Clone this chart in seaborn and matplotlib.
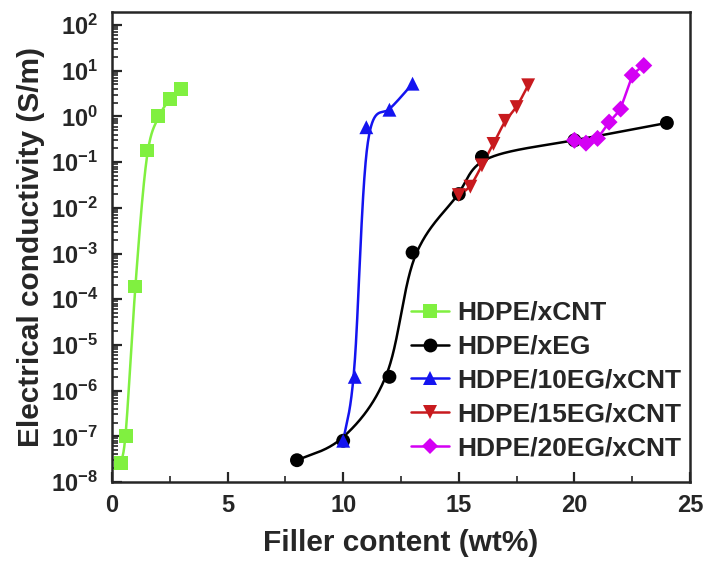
import numpy as np
import pandas as pd
import matplotlib
matplotlib.use("Agg")
import matplotlib.pyplot as plt
import seaborn as sns
from matplotlib.lines import Line2D
from matplotlib.ticker import LogLocator, MultipleLocator, FuncFormatter, NullFormatter

# series
labels = ["HDPE/xCNT", "HDPE/xEG", "HDPE/10EG/xCNT", "HDPE/15EG/xCNT", "HDPE/20EG/xCNT"]
colors = ["#80f040", "#000000", "#1414f0", "#c81a1e", "#d400f4"]
markers = ["s", "o", "^", "v", "D"]

cnt_x = [0.4, 0.6, 1.0, 1.5, 2.0, 2.5, 3.0]
cnt_y = [2.6e-8, 1.0e-7, 1.9e-4, 0.18, 1.0, 2.4, 4.0]

eg_x = [8, 10, 12, 13, 15, 16, 20, 24]
eg_y = [3.0e-8, 8.0e-8, 2.0e-6, 1.05e-3, 0.02, 0.13, 0.30, 0.72]

eg10_x = [10, 10.5, 11, 12, 13]
eg10_y = [8.0e-8, 2.0e-6, 0.58, 1.4, 5.2]

eg15_x = [15, 15.5, 16, 16.5, 17, 17.5, 18]
eg15_y = [0.019, 0.029, 0.085, 0.25, 0.8, 1.6, 4.8]

eg20_x = [20, 20.5, 21, 21.5, 22, 22.5, 23]
eg20_y = [0.30, 0.26, 0.33, 0.75, 1.45, 8.0, 13.0]

xs = [cnt_x, eg_x, eg10_x, eg15_x, eg20_x]
ys = [cnt_y, eg_y, eg10_y, eg15_y, eg20_y]


def smooth_line(x, y, w=0.5, n=60, sx=23.1, sy=45.7):
    # uniform cubic spline half way between Catmull-Rom and B-spline,
    # worked out in screen-like units (log y), ends pass through first/last point
    P = np.column_stack([np.asarray(x, float) * sx, np.log10(np.asarray(y, float)) * sy])
    P = np.vstack([2 * P[0] - P[1], P, 2 * P[-1] - P[-2]])
    cr = 0.5 * np.array([[0, 2, 0, 0], [-1, 0, 1, 0], [2, -5, 4, -1], [-1, 3, -3, 1]])
    bs = np.array([[1, 4, 1, 0], [-3, 0, 3, 0], [3, -6, 3, 0], [-1, 3, -3, 1]]) / 6.0
    M = (1 - w) * cr + w * bs
    u = np.linspace(0, 1, n)
    U = np.column_stack([np.ones(n), u, u**2, u**3])
    out = []
    for i in range(len(P) - 3):
        c = U @ M @ P[i:i + 4]
        out.append(c if i == 0 else c[1:])
    C = np.vstack(out)
    return C[:, 0] / sx, 10 ** (C[:, 1] / sy)


sns.set_style("ticks")
plt.rcParams["font.family"] = ["Liberation Sans", "DejaVu Sans"]
plt.rcParams["font.weight"] = "bold"
plt.rcParams["mathtext.fontset"] = "custom"
plt.rcParams["mathtext.bf"] = "Liberation Sans:bold"
plt.rcParams["mathtext.rm"] = "Liberation Sans:bold"

fig = plt.figure(figsize=(7.1, 5.65), dpi=100)
ax = fig.add_axes([112 / 710, 83 / 565, 578 / 710, 470 / 565])
ax.set_yscale("log")

for lab, col, mk, x, y in zip(labels, colors, markers, xs, ys):
    sx, sy = smooth_line(x, y)
    curve = pd.DataFrame({"x": sx, "y": sy})
    pts = pd.DataFrame({"x": x, "y": y})
    sns.lineplot(data=curve, x="x", y="y", color=col, linewidth=1.8,
                 estimator=None, sort=False, ax=ax)
    size = 75 if mk == "D" else 100
    sns.scatterplot(data=pts, x="x", y="y", color=col, marker=mk, s=size,
                    edgecolor="none", ax=ax, zorder=3)

ax.set_xlim(0, 25)
ax.set_ylim(1e-8, 10 ** 2.285)

ax.xaxis.set_major_locator(MultipleLocator(5))
ax.xaxis.set_minor_locator(MultipleLocator(2.5))
ax.yaxis.set_major_locator(LogLocator(base=10, numticks=20))
ax.yaxis.set_minor_locator(LogLocator(base=10, subs=np.arange(2, 10), numticks=20))
ax.yaxis.set_minor_formatter(NullFormatter())
ax.yaxis.set_major_formatter(FuncFormatter(lambda v, p: r"$\mathbf{10^{%d}}$" % round(np.log10(v))))

ax.tick_params(axis="both", which="major", direction="in", length=7, width=1.6,
               labelsize=17, top=False, right=False)
ax.tick_params(axis="x", which="major", pad=9)
ax.tick_params(axis="y", which="major", pad=10)
ax.tick_params(axis="both", which="minor", direction="in", length=4, width=1.2,
               top=False, right=False)
for lbl in ax.get_xticklabels():
    lbl.set_fontweight("bold")

for sp in ax.spines.values():
    sp.set_linewidth(1.8)
    sp.set_visible(True)

ax.set_xlabel("Filler content (wt%)", fontsize=21.5, fontweight="bold", labelpad=8)
ax.set_ylabel("Electrical conductivity (S/m)", fontsize=21.5, fontweight="bold", labelpad=4)

handles = [Line2D([0], [0], color=c, marker=m, markersize=(8.3 if m == "D" else 10),
                  linewidth=1.8, markeredgewidth=0) for c, m in zip(colors, markers)]
ax.legend(handles, labels, loc="upper left", bbox_to_anchor=(411 / 710, 1 - 301 / 565),
          bbox_transform=fig.transFigure, frameon=False,
          prop={"weight": "bold", "size": 19}, handlelength=1.45, handletextpad=0.3,
          labelspacing=0.37, borderpad=0, borderaxespad=0)

fig.savefig("out.png", dpi=100)
